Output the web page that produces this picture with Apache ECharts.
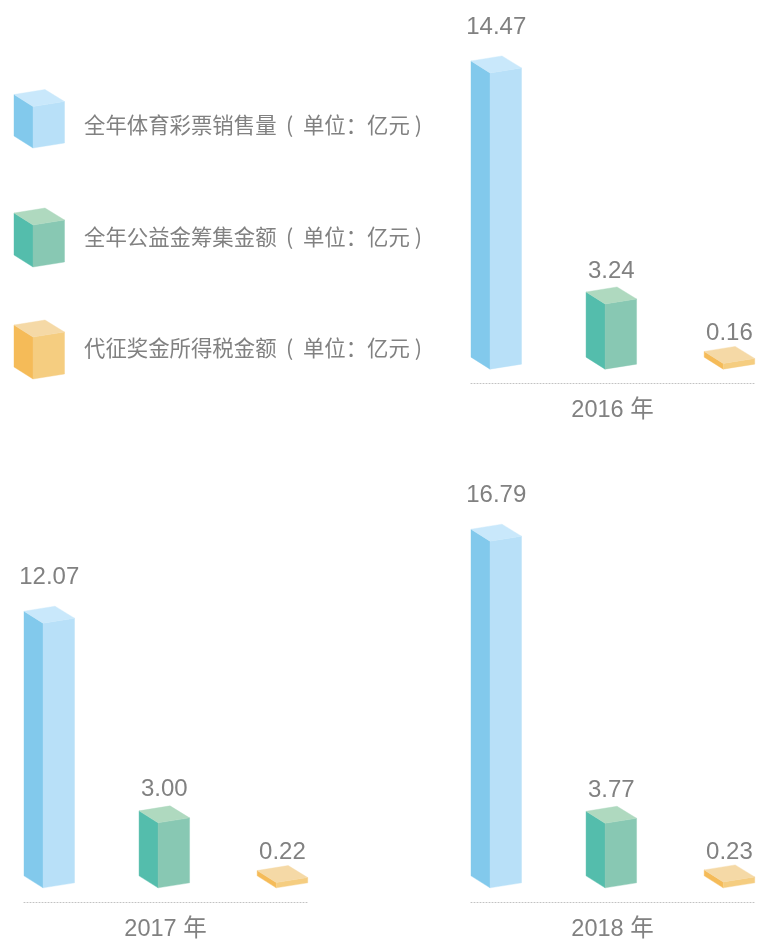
<!DOCTYPE html>
<html>
<head>
<meta charset="utf-8">
<style>html,body{margin:0;padding:0;background:#fff}#c{width:757px;height:940px}</style>
<script src="https://cdn.jsdelivr.net/npm/echarts@6/dist/echarts.min.js"></script>
</head>
<body>
<div id="c"></div>
<script>
// Printed figures from the picture.
const years = ['2016 年', '2017 年', '2018 年'];
const categories = ['全年体育彩票销售量', '全年公益金筹集金额', '代征奖金所得税金额'];
const unitText = '  (  单位：亿元 )';
const printed2016 = ['14.47', '3.24', '0.16'];
const printed2017 = ['12.07', '3.00', '0.22'];
const printed2018 = ['16.79', '3.77', '0.23'];
// The source's bars are not strictly to scale with the printed figures
// (e.g. every green bar is the same height), so heights are read separately from the picture.
const drawn2016 = [14.45, 3.18, 0.28];
const drawn2017 = [12.91, 3.17, 0.26];
const drawn2018 = [16.91, 3.15, 0.29];

const printed = [printed2016, printed2017, printed2018];
const drawn = [drawn2016, drawn2017, drawn2018];

const faceColors = [
  { left: '#82c9ec', right: '#b8e0f8', top: '#c9e8fb' },
  { left: '#54bdac', right: '#88c8b3', top: '#afd9bf' },
  { left: '#f5bb58', right: '#f5cd80', top: '#f5d9a6' }
];
const labelGaps = [29, 16, 13];
const boxNudge = [0, -1.2, 0.7];
const panels = [
  { left: 471, bottom: 383.5 },
  { left: 24, bottom: 902.2 },
  { left: 471, bottom: 902.2 }
];
const PANEL_W = 283, PX_PER_UNIT = 20.5, Y_MIN = -0.7, Y_MAX = 18;
const FRONT_DX = 19, BOX_W = 50.5, BACK_DX = 31, RISE_L = 12, RISE_R = 5, RISE_B = 17;
const TEXT = '#818181';
const LATIN = '"Liberation Sans", Arial, sans-serif';
const CJK = '"Noto Sans CJK SC", "Liberation Sans", sans-serif';

function cube(x, frontTop, frontBottom, c) {
  const fx = x + FRONT_DX, rx = x + BOX_W, bx = x + BACK_DX;
  const poly = (pts, fill) => ({
    type: 'polygon',
    shape: { points: pts },
    style: { fill, stroke: fill, lineWidth: 0.4 }
  });
  return [
    poly([[x, frontTop - RISE_L], [fx, frontTop], [fx, frontBottom], [x, frontBottom - RISE_L]], c.left),
    poly([[fx, frontTop], [rx, frontTop - RISE_R], [rx, frontBottom - RISE_R], [fx, frontBottom]], c.right),
    poly([[x, frontTop - RISE_L], [bx, frontTop - RISE_B], [rx, frontTop - RISE_R], [fx, frontTop]], c.top)
  ];
}

const renderBox = (p) => (params, api) => {
  const i = api.value(0);
  const anchor = api.coord([i, 0]);
  const top = api.coord([i, api.value(1)]);
  // first box sits on the axis start, last on its end, middle centred
  const x = anchor[0] - i * BOX_W / 2 + boxNudge[i];
  const parts = cube(x, top[1], anchor[1], faceColors[i]);
  parts.push({
    type: 'text',
    style: {
      text: printed[p][i],
      x: x + BOX_W / 2,
      y: top[1] - RISE_B - labelGaps[i],
      fill: TEXT,
      font: '24px ' + LATIN,
      align: 'center',
      verticalAlign: 'middle'
    }
  });
  return { type: 'group', children: parts };
};

const grid = [], xAxis = [], yAxis = [], series = [];
panels.forEach((pn, p) => {
  const h = (Y_MAX - Y_MIN) * PX_PER_UNIT;
  grid.push({ left: pn.left, width: PANEL_W, top: pn.bottom - h, height: h, outerBoundsMode: 'none' });
  xAxis.push({
    gridIndex: p, type: 'category', data: categories, boundaryGap: false,
    name: years[p], nameLocation: 'middle', nameGap: 15,
    nameTextStyle: { color: TEXT, fontSize: 23.5, fontFamily: LATIN + ', "Noto Sans CJK SC"', lineHeight: 24 },
    axisLine: { show: true, onZero: false, lineStyle: { color: '#c2c2c2', type: [1, 2], width: 1 } },
    axisTick: { show: false }, axisLabel: { show: false }, splitLine: { show: false }
  });
  yAxis.push({ gridIndex: p, type: 'value', min: Y_MIN, max: Y_MAX, show: false });
  categories.forEach((name, i) => {
    series.push({
      type: 'custom', name, xAxisIndex: p, yAxisIndex: p,
      coordinateSystem: 'cartesian2d', clip: false, silent: true,
      encode: { x: 0, y: 1 },
      renderItem: renderBox(p),
      data: [[i, drawn[p][i]]]
    });
  });
});

const legendTops = [106.5, 225, 337];
const legendBottoms = [148, 267, 379];
const legendTextY = [125, 237, 348];
const graphic = [];
categories.forEach((name, i) => {
  cube(14, legendTops[i], legendBottoms[i], faceColors[i]).forEach(g => graphic.push(g));
  graphic.push({
    type: 'text', left: 84, top: legendTextY[i] - 15,
    style: { text: name + unitText, fill: TEXT, font: '21.4px ' + CJK, lineHeight: 30 }
  });
});

const chart = echarts.init(document.getElementById('c'), null, { renderer: 'canvas' });
chart.setOption({
  animation: false, backgroundColor: '#fff', tooltip: { show: false },
  grid, xAxis, yAxis, series, graphic
});
</script>
</body>
</html>
